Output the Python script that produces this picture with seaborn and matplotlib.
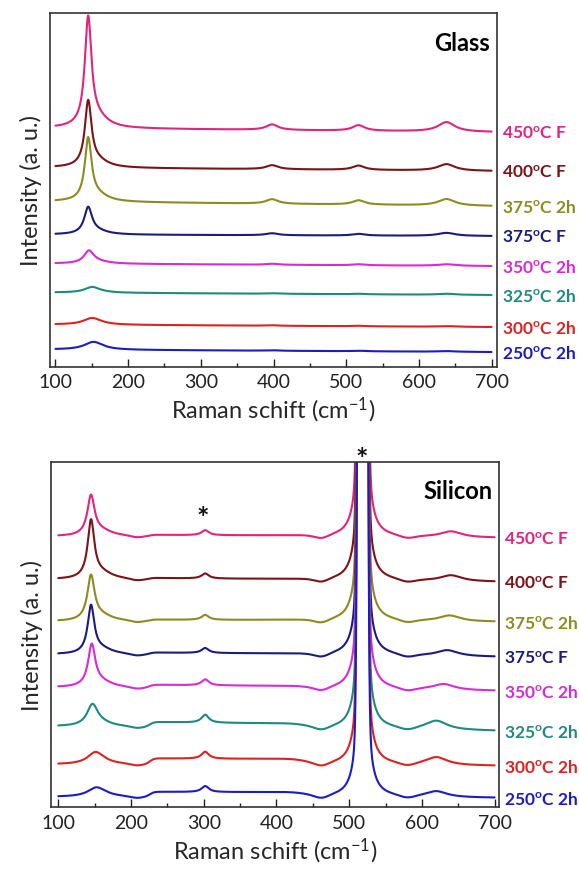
import numpy as np
import pandas as pd
import matplotlib
matplotlib.use('Agg')
import matplotlib.pyplot as plt
import matplotlib.transforms as mtransforms
from matplotlib.ticker import MultipleLocator
import seaborn as sns

sns.set_theme(style='white')
plt.rcParams['font.family'] = ['Lato', 'DejaVu Sans']
plt.rcParams['mathtext.fontset'] = 'custom'
plt.rcParams['mathtext.rm'] = 'Lato'
plt.rcParams['mathtext.bf'] = 'Lato:bold'
plt.rcParams['mathtext.it'] = 'Lato:italic'

# 樣品 (由上到下)
samples = ['450F', '400F', '375_2h', '375F', '350_2h', '325_2h', '300_2h', '250_2h']
sample_labels = [r'450$^{\mathbf{o}}$C F', r'400$^{\mathbf{o}}$C F', r'375$^{\mathbf{o}}$C 2h',
                 r'375$^{\mathbf{o}}$C F', r'350$^{\mathbf{o}}$C 2h', r'325$^{\mathbf{o}}$C 2h',
                 r'300$^{\mathbf{o}}$C 2h', r'250$^{\mathbf{o}}$C 2h']
colors = ['#e2247f', '#7a1418', '#8c8c22', '#1c1c7c', '#d62bd6', '#1f8a80', '#dd2222', '#1c1cc4']

# --- Glass: 基線 (100 與 700 cm-1) 及峰值 ---
glass_base_left = [238.5, 199, 165, 132, 103, 74, 42, 17]
glass_base_right = [234.5, 195.5, 160.5, 130.5, 100.5, 71.5, 39.5, 14.5]
glass_eg_amp = [107, 64, 61, 26, 12, 5, 6, 7]
glass_eg_pos = [145, 145, 145, 145, 146, 150, 150, 152]
glass_eg_hw = [5.5, 5.5, 5.5, 6.5, 8, 12, 14, 15]
glass_tail_amp = [9, 6, 6, 3, 2, 1, 1, 1]               # 145 峰的高頻側尾巴
glass_b1g_amp = [5.5, 4, 4.5, 2, 1, 0.5, 0.5, 0.5]      # ~398 cm-1
glass_a1g_amp = [5.5, 4.3, 4.3, 1.7, 1, 0.5, 0.5, 0.5]  # ~517 cm-1
glass_eg3_amp = [9.5, 6.5, 6.5, 3, 1.5, 1, 0.7, 0.7]    # ~638 cm-1

# --- Silicon ---
si_base_left = [271, 228, 186, 153, 120, 81, 43, 10.5]
si_base_right = [269.5, 225.5, 185.5, 150.5, 116.5, 76.5, 41.5, 9.5]
si_eg_amp = [39, 57, 44, 47, 41, 21, 11, 8]
si_eg_pos = [145, 145, 145, 145, 146, 147, 151, 152]
si_eg_hw = [6, 5.5, 6, 5.5, 6, 9, 13, 14]
si_tail_amp = [5, 6, 5, 5, 5, 3, 2, 2]
si_302_amp = [5, 5, 5, 5, 6, 8, 7, 6]
si_hump = [1.5, 1.5, 1.5, 2, 3, 5, 6, 5]
si_630_amp = [6, 6, 6, 6, 6, 9, 8, 6]
si_630_pos = [640, 640, 638, 635, 630, 620, 620, 620]


def lorentz(x, amp, pos, hw):
    return amp * hw ** 2 / (hw ** 2 + (x - pos) ** 2)


def gauss(x, amp, pos, sig):
    return amp * np.exp(-0.5 * ((x - pos) / sig) ** 2)


x = np.arange(100, 700.01, 0.5)

rows = []
for i, s in enumerate(samples):
    base = glass_base_left[i] + (glass_base_right[i] - glass_base_left[i]) * (x - 100) / 600
    y = (base + lorentz(x, glass_eg_amp[i], glass_eg_pos[i], glass_eg_hw[i])
         + lorentz(x, glass_tail_amp[i], 158, 18)
         + lorentz(x, glass_b1g_amp[i], 398, 10)
         + lorentz(x, glass_a1g_amp[i], 517, 10)
         + lorentz(x, glass_eg3_amp[i], 638, 14))
    rows.append(pd.DataFrame({'panel': 'Glass', 'sample': s, 'x': x, 'y': y}))

    base = si_base_left[i] + (si_base_right[i] - si_base_left[i]) * (x - 100) / 600
    plateau = 1 / (1 + np.exp(-(x - 226) / 3)) / (1 + np.exp((x - 440) / 10))
    y = (base + lorentz(x, si_eg_amp[i], si_eg_pos[i], si_eg_hw[i])
         + lorentz(x, si_tail_amp[i], 160, 18)
         + lorentz(x, si_302_amp[i], 302, 6)
         + si_hump[i] * plateau
         + gauss(x, -1.5, 208, 8) + gauss(x, -3, 462, 9) + gauss(x, -2.5, 580, 10)
         + gauss(x, 8000, 518.5, 3.0) + lorentz(x, 450, 518.5, 4)
         + lorentz(x, si_630_amp[i], si_630_pos[i], 18))
    rows.append(pd.DataFrame({'panel': 'Silicon', 'sample': s, 'x': x, 'y': y}))

df = pd.concat(rows, ignore_index=True)
palette = dict(zip(samples, colors))

fig = plt.figure(figsize=(5.79, 8.78), dpi=100)
ax1 = fig.add_axes([0.0864, 0.5814, 0.772, 0.4026])
ax2 = fig.add_axes([0.0881, 0.0792, 0.7737, 0.3935])

panels = [(ax1, 'Glass', (92.5, 707.5), 353.5), (ax2, 'Silicon', (90, 706), 345.5)]
for ax, name, xlim, ytop in panels:
    sub = df[df['panel'] == name]
    sns.lineplot(data=sub, x='x', y='y', hue='sample', palette=palette,
                 estimator=None, sort=False, lw=1.5, legend=False, ax=ax)
    ax.set_xlim(*xlim)
    ax.set_ylim(0, ytop)
    ax.set_yticks([])
    ax.xaxis.set_major_locator(MultipleLocator(100))
    ax.xaxis.set_minor_locator(MultipleLocator(50))
    ax.tick_params(axis='x', which='both', direction='in', bottom=True, top=False,
                   labelsize=14, pad=5, colors='#222222')
    ax.tick_params(axis='x', which='major', length=6, width=1)
    ax.tick_params(axis='x', which='minor', length=3, width=1)
    for sp in ax.spines.values():
        sp.set_color('#333333')
        sp.set_linewidth(1.2)
    ax.set_xlabel(r'Raman schift (cm$^{-1}$)', fontsize=17, labelpad=3)
    ax.set_ylabel('Intensity (a. u.)', fontsize=17, labelpad=6)
    ax.text(0.985, 0.95, name, transform=ax.transAxes, ha='right', va='top',
            fontsize=17, fontweight='bold', color='black')

    # 右側樣品標籤
    trans = mtransforms.blended_transform_factory(ax.transAxes, ax.transData)
    for i, s in enumerate(samples):
        yend = sub[sub['sample'] == s]['y'].values[-1]
        ax.text(1.012, yend - 1, sample_labels[i], transform=trans, ha='left', va='center',
                fontsize=12.5, fontweight='bold', color=colors[i], clip_on=False)

# 星號標記
trans2 = mtransforms.blended_transform_factory(ax2.transData, ax2.transAxes)
ax2.text(517, 0.985, '*', transform=trans2, ha='center', va='baseline',
         fontsize=21, fontweight='bold', color='#111111')
ax2.text(299, 281, '*', ha='center', va='baseline', fontsize=21, fontweight='bold', color='#111111')

plt.savefig('out.png', dpi=100)
